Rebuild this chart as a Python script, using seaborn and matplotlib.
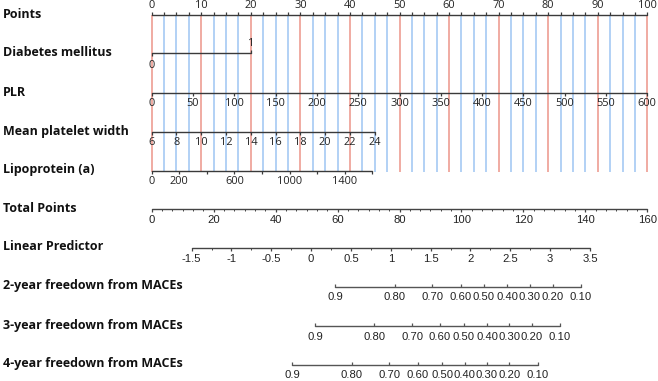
import matplotlib
matplotlib.use("Agg")
import matplotlib.pyplot as plt
import numpy as np
import seaborn as sns

# ---- values ----
row_labels = ["Points", "Diabetes mellitus", "PLR", "Mean platelet width",
              "Lipoprotein (a)", "Total Points", "Linear Predictor",
              "2-year freedown from MACEs", "3-year freedown from MACEs",
              "4-year freedown from MACEs"]

points_labels = [0, 10, 20, 30, 40, 50, 60, 70, 80, 90, 100]

dm_values = [0, 1]
dm_points = [0, 20]

plr_labels = [0, 50, 100, 150, 200, 250, 300, 350, 400, 450, 500, 550, 600]
plr_max_points = 100

mpw_labels = [6, 8, 10, 12, 14, 16, 18, 20, 22, 24]
mpw_max_points = 45

lpa_ticks = [0, 200, 400, 600, 800, 1000, 1200, 1400, 1600]
lpa_labels = [0, 200, 600, 1000, 1400]
lpa_max_points = 44.5

total_labels = [0, 20, 40, 60, 80, 100, 120, 140, 160]
total_max = 160

lp_labels = [-1.5, -1, -0.5, 0, 0.5, 1, 1.5, 2, 2.5, 3, 3.5]
lp_total_range = [12.9, 141.5]  # total points at -1.5 and at 3.5

surv_labels = ["0.9", "0.80", "0.70", "0.60", "0.50", "0.40", "0.30", "0.20", "0.10"]
surv2_total = [59.2, 78.5, 90.6, 99.8, 107.3, 114.8, 122.1, 129.5, 138.5]
surv3_total = [52.7, 71.9, 84.1, 93.1, 100.8, 108.3, 115.4, 122.7, 131.8]
surv4_total = [45.4, 64.6, 76.7, 85.9, 93.8, 101.1, 108.2, 115.4, 124.6]

# ---- layout ----
W, H = 658, 381
x0_px, x100_px = 151.7, 647.3
ppu = (x100_px - x0_px) / 100.0
row_y = [15, 53, 93, 132, 171, 209, 248, 287, 326, 365]

sns.set_theme(style="white")
plt.rcParams["font.family"] = ["Open Sans", "DejaVu Sans"]

fig = plt.figure(figsize=(W / 100, H / 100), dpi=100)
ax = fig.add_axes([0, 0, 1, 1])
ax.set_xlim(-x0_px / ppu, (W - x0_px) / ppu)
ax.set_ylim(H, 0)
ax.axis("off")

red = "#EE9D92"
blue = "#A5C9F4"
axis_col = "#3a3a3a"
top_font = dict(family=["Open Sans", "DejaVu Sans"], fontsize=7.9, color="#222222")
low_font = dict(family=["Liberation Sans", "DejaVu Sans"], fontsize=8.1, color="#222222")


def tot(v):
    return np.asarray(v, dtype=float) * 100.0 / total_max


def scale_line(xa, xb, y, color=axis_col, lw=1.0):
    sns.lineplot(x=[xa, xb], y=[y, y], color=color, linewidth=lw, ax=ax,
                 estimator=None, sort=False, zorder=3)


def ticks(xs, y, length, color=axis_col, lw=0.9):
    ax.vlines(xs, y, y + length, color=color, linewidth=lw, zorder=3)


# reference lines from the Points axis
grid_x = np.arange(0, 100.01, 2.5)
for gx in grid_x:
    is_major = abs(gx % 10) < 1e-6
    ax.vlines(gx, row_y[0], 172, color=red if is_major else blue,
              linewidth=1.2, zorder=1)

# row titles
for label, y in zip(row_labels, row_y):
    ax.text(-x0_px / ppu + 3 / ppu, y - 1, label, fontsize=9.0, fontweight="bold",
            family=["Open Sans", "DejaVu Sans"], va="center", ha="left", color="#111111")

# Points
scale_line(0, 100, row_y[0])
ticks(grid_x, row_y[0], -3)
for v in points_labels:
    ax.text(v, row_y[0] - 9, str(v), ha="center", va="center", **top_font)

# Diabetes mellitus
scale_line(dm_points[0], dm_points[1], row_y[1])
ticks([dm_points[1]], row_y[1], -3)
ticks([dm_points[0]], row_y[1], 3)
ax.text(dm_points[1], row_y[1] - 10, str(dm_values[1]), ha="center", va="center", **top_font)
ax.text(dm_points[0], row_y[1] + 12, str(dm_values[0]), ha="center", va="center", **top_font)

# PLR
plr_x = np.array(plr_labels) / plr_labels[-1] * plr_max_points
scale_line(plr_x[0], plr_x[-1], row_y[2])
ticks(plr_x, row_y[2], 3)
for v, x in zip(plr_labels, plr_x):
    ax.text(x, row_y[2] + 10.5, str(v), ha="center", va="center", **top_font)

# Mean platelet width
mpw_x = (np.array(mpw_labels) - mpw_labels[0]) / (mpw_labels[-1] - mpw_labels[0]) * mpw_max_points
scale_line(mpw_x[0], mpw_x[-1], row_y[3])
ticks(mpw_x, row_y[3], 3)
for v, x in zip(mpw_labels, mpw_x):
    ax.text(x, row_y[3] + 10.5, str(v), ha="center", va="center", **top_font)

# Lipoprotein (a)
lpa_x = np.array(lpa_ticks) / lpa_ticks[-1] * lpa_max_points
scale_line(lpa_x[0], lpa_x[-1], row_y[4])
ticks(lpa_x, row_y[4], 3)
for v in lpa_labels:
    ax.text(v / lpa_ticks[-1] * lpa_max_points, row_y[4] + 11, str(v),
            ha="center", va="center", **top_font)

# Total Points
scale_line(0, 100, row_y[5], color="#444444")
ticks(tot(np.arange(0, total_max + 0.01, 20 / 6)), row_y[5], 2, color="#444444", lw=0.7)
ticks(tot(total_labels), row_y[5], 3, color="#444444")
for v in total_labels:
    ax.text(tot(v), row_y[5] + 11, str(v), ha="center", va="center", **low_font)

# Linear Predictor
lp_arr = np.array(lp_labels)
lp_tot = lp_total_range[0] + (lp_arr - lp_arr[0]) / (lp_arr[-1] - lp_arr[0]) * (lp_total_range[1] - lp_total_range[0])
lp_minor = np.interp(np.arange(lp_arr[0], lp_arr[-1] + 0.01, 0.25), lp_arr, lp_tot)
scale_line(tot(lp_tot[0]), tot(lp_tot[-1]), row_y[6], color="#444444")
ticks(tot(lp_minor), row_y[6], 2, color="#444444", lw=0.7)
ticks(tot(lp_tot), row_y[6], 3, color="#444444")
for v, t in zip(lp_labels, lp_tot):
    ax.text(tot(t), row_y[6] + 10.5, f"{v:g}", ha="center", va="center", **low_font)

# survival scales
for surv_total, y in zip([surv2_total, surv3_total, surv4_total], row_y[7:]):
    sx = tot(surv_total)
    scale_line(sx[0], sx[-1], y, color="#555555")
    ticks(sx, y, -3, color="#555555")
    for lab, x in zip(surv_labels, sx):
        ax.text(x, y + 10.5, lab, ha="center", va="center", **low_font)

fig.savefig("out.png", dpi=100)
